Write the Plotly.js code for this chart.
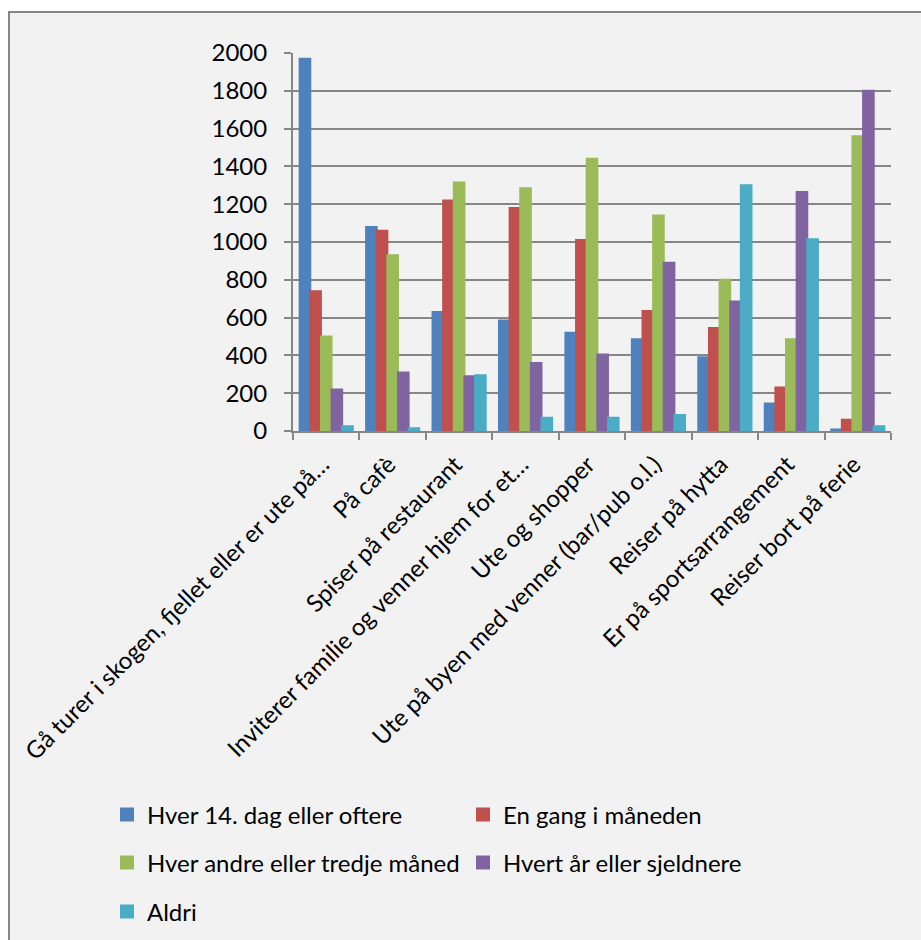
<!DOCTYPE html>
<html>
<head>
<meta charset="utf-8">
<script src="https://cdn.plot.ly/plotly-3.0.1.min.js"></script>
<style>html,body{margin:0;padding:0;background:#fff;}#chart{width:921px;height:940px;}</style>
</head>
<body>
<div id="chart"></div>
<script>
var categories = [
  "Gå turer i skogen, fjellet eller er ute på…",
  "På cafè",
  "Spiser på restaurant",
  "Inviterer familie og venner hjem for et…",
  "Ute og shopper",
  "Ute på byen med venner (bar/pub o.l.)",
  "Reiser på hytta",
  "Er på sportsarrangement",
  "Reiser bort på ferie"
];
var seriesNames = [
  "Hver 14. dag eller oftere",
  "En gang i måneden",
  "Hver andre eller tredje måned",
  "Hvert år eller sjeldnere",
  "Aldri"
];
var hver14dag   = [1970, 1080, 630, 585, 520, 485, 390, 145, 8];
var enGangMnd   = [740, 1060, 1220, 1180, 1010, 635, 545, 230, 60];
var hverAndre   = [500, 930, 1315, 1285, 1440, 1140, 800, 485, 1560];
var hvertAar    = [220, 310, 290, 360, 405, 890, 685, 1265, 1800];
var aldri       = [25, 15, 295, 70, 70, 85, 1300, 1015, 25];
var yTicks = [0, 200, 400, 600, 800, 1000, 1200, 1400, 1600, 1800, 2000];

var colors = ["#4f81bd", "#c0504d", "#9bbb59", "#8064a2", "#4bacc6"];
var values = [hver14dag, enGangMnd, hverAndre, hvertAar, aldri];
var legendIds = ["legend", "legend2", "legend3", "legend4", "legend5"];

var FONT = "Lato, 'Liberation Sans', sans-serif";

var traces = values.map(function (v, i) {
  return {
    type: "bar",
    name: seriesNames[i],
    x: categories,
    y: v,
    legend: legendIds[i],
    marker: { color: colors[i], line: { color: colors[i], width: 2 } }
  };
});

var W = 921, H = 940;
var mL = 293, mR = 30, mT = 53, mB = 509;
var pw = W - mL - mR, ph = H - mT - mB;
function px2x(p) { return (p - mL) / pw; }
function py2y(p) { return (H - mB - p) / ph; }

function legendAt(xPix, yPix) {
  return {
    xref: "container", yref: "container",
    x: xPix / W, xanchor: "left",
    y: 1 - yPix / H, yanchor: "middle",
    orientation: "h",
    bgcolor: "rgba(0,0,0,0)",
    borderwidth: 0,
    font: { family: FONT, size: 24, color: "#000" }
  };
}

var layout = {
  width: W, height: H,
  margin: { l: mL, r: mR, t: mT, b: mB, pad: 0 },
  paper_bgcolor: "#ffffff",
  plot_bgcolor: "rgba(0,0,0,0)",
  font: { family: FONT, size: 24, color: "#000" },
  barmode: "group",
  bargap: 0.2,
  bargroupgap: 0,
  showlegend: true,
  xaxis: {
    type: "category",
    tickangle: -45,
    tickson: "boundaries",
    ticks: "outside",
    ticklen: 7,
    tickcolor: "#868686",
    tickwidth: 2,
    ticklabelstandoff: 8,
    ticklabelshift: -4,
    showline: true,
    linecolor: "#868686",
    linewidth: 2,
    showgrid: false,
    tickfont: { family: FONT, size: 24, color: "#000" },
    automargin: false
  },
  yaxis: {
    range: [0, 2000],
    tickvals: yTicks,
    ticktext: yTicks.map(String),
    ticks: "outside",
    ticklen: 7,
    tickcolor: "#868686",
    tickwidth: 2,
    ticklabelstandoff: 12,
    showline: true,
    linecolor: "#868686",
    linewidth: 2,
    showgrid: true,
    gridcolor: "#868686",
    gridwidth: 2,
    zeroline: false,
    tickfont: { family: FONT, size: 24, color: "#000" },
    automargin: false
  },
  legend:  legendAt(107, 815),
  legend2: legendAt(463, 815),
  legend3: legendAt(107, 863),
  legend4: legendAt(463, 863),
  legend5: legendAt(107, 912),
  shapes: [{
    type: "rect", xref: "paper", yref: "paper", layer: "below",
    x0: px2x(9), x1: px2x(940), y0: py2y(960), y1: py2y(12),
    fillcolor: "#f2f2f2",
    line: { color: "#868686", width: 2 }
  }]
};

Plotly.newPlot("chart", traces, layout, { displayModeBar: false, staticPlot: true });
</script>
</body>
</html>
